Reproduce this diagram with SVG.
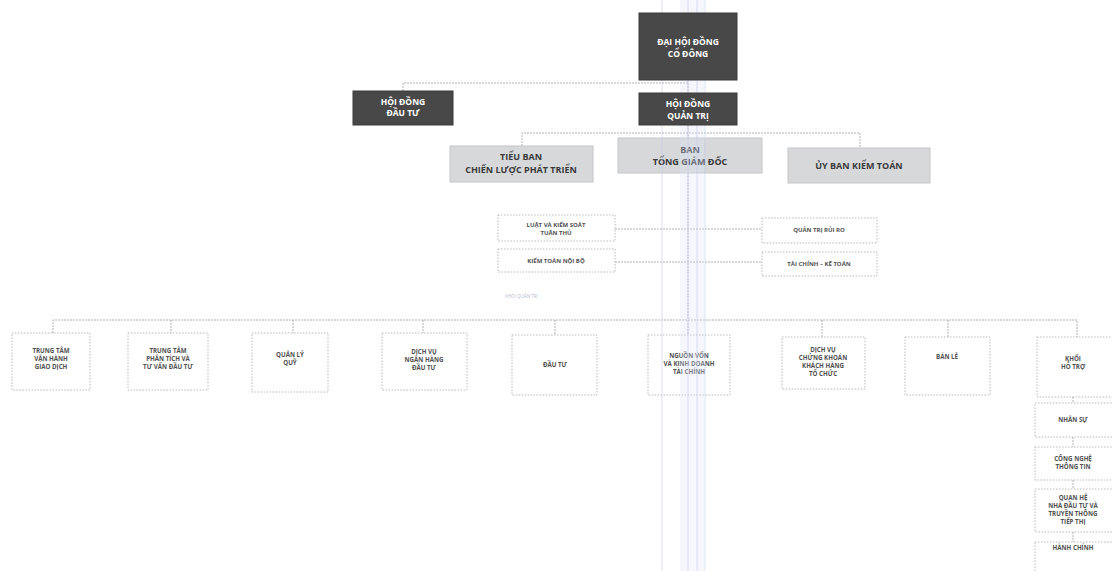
<svg xmlns="http://www.w3.org/2000/svg" width="1112" height="571" viewBox="0 0 1112 571">
<style>
.dark{fill:#484848;stroke:#3a3a3a;stroke-width:1}
.light{fill:#d6d8da;stroke:#c4c6c8;stroke-width:1}
.white{fill:#ffffff;stroke:#a8a8a8;stroke-width:0.8;stroke-dasharray:1.5 1.5}
.tw{font-family:"Open Sans","Liberation Sans",sans-serif;font-weight:700;font-size:8.5px;fill:#ffffff;text-anchor:middle}
.tl{font-family:"Open Sans","Liberation Sans",sans-serif;font-weight:700;font-size:9px;fill:#3a3a3a;text-anchor:middle}
.ts{font-family:"Open Sans","Liberation Sans",sans-serif;font-weight:700;font-size:6px;fill:#505050;text-anchor:middle}
.tb{font-family:"Open Sans","Liberation Sans",sans-serif;font-weight:700;font-size:6.2px;fill:#505050;text-anchor:middle}
.conn{fill:none;stroke:#a0a0a0;stroke-width:0.8;stroke-dasharray:2 1}
.scan{stroke:#c3cdec;stroke-width:1;fill:none;opacity:0.6}
</style>
<rect width="1112" height="571" fill="#ffffff"/>
<g id="connectors">
<path class="conn" d="M688,80 V93"/>
<path class="conn" d="M403,91 V83 H688"/>
<path class="conn" d="M688,125 V138"/>
<path class="conn" d="M522,146 V133 H860 V148"/>
<path class="conn" d="M688,173 V320"/>
<path class="conn" d="M615,229 H762"/>
<path class="conn" d="M615,262 H762"/>
<path class="conn" d="M53,333 V320 H1077 V337"/>
<path class="conn" d="M171,320 V333"/>
<path class="conn" d="M293,320 V333"/>
<path class="conn" d="M423,320 V333"/>
<path class="conn" d="M555,320 V335"/>
<path class="conn" d="M688,320 V335"/>
<path class="conn" d="M822,320 V337"/>
<path class="conn" d="M948,320 V337"/>
<path class="conn" d="M1073,397 V403"/>
<path class="conn" d="M1073,437 V447"/>
<path class="conn" d="M1073,480 V489"/>
<path class="conn" d="M1073,532 V542"/>
</g>
<g id="tieu-ban">
<rect class="light" x="450" y="146" width="143" height="36"/>
<text class="tl" x="521" y="160">TIỂU BAN</text>
<text class="tl" x="521" y="173">CHIẾN LƯỢC PHÁT TRIỂN</text>
</g>
<g id="ban-tong-giam-doc">
<rect class="light" x="618" y="138" width="144" height="35"/>
<text class="tl" x="690" y="153">BAN</text>
<text class="tl" x="690" y="165">TỔNG GIÁM ĐỐC</text>
</g>
<g id="uy-ban-kiem-toan">
<rect class="light" x="788" y="148" width="142" height="35"/>
<text class="tl" x="859" y="169">ỦY BAN KIỂM TOÁN</text>
</g>
<g id="luat-kiem-soat">
<rect class="white" x="498" y="215" width="117" height="26"/>
<text class="ts" x="556" y="227">LUẬT VÀ KIỂM SOÁT</text>
<text class="ts" x="556" y="235">TUÂN THỦ</text>
</g>
<g id="kiem-toan-noi-bo">
<rect class="white" x="498" y="249" width="117" height="23"/>
<text class="ts" x="556" y="263">KIỂM TOÁN NỘI BỘ</text>
</g>
<g id="quan-tri-rui-ro">
<rect class="white" x="762" y="218" width="115" height="25"/>
<text class="ts" x="819" y="232">QUẢN TRỊ RỦI RO</text>
</g>
<g id="tai-chinh-ke-toan">
<rect class="white" x="762" y="252" width="115" height="24"/>
<text class="ts" x="819" y="266">TÀI CHÍNH – KẾ TOÁN</text>
</g>
<g id="khoi-quan-tri-label">
<text x="505" y="298" style="font-family:'Open Sans','Liberation Sans',sans-serif;font-size:4.5px;fill:#b4bccf">KHỐI QUẢN TRỊ</text>
</g>
<g id="trung-tam-van-hanh">
<rect class="white" x="12" y="333" width="78" height="57"/>
<text class="tb" x="51" y="353">TRUNG TÂM</text>
<text class="tb" x="51" y="361">VẬN HÀNH</text>
<text class="tb" x="51" y="369">GIAO DỊCH</text>
</g>
<g id="trung-tam-phan-tich">
<rect class="white" x="128" y="333" width="80" height="57"/>
<text class="tb" x="168" y="353">TRUNG TÂM</text>
<text class="tb" x="168" y="361">PHÂN TÍCH VÀ</text>
<text class="tb" x="168" y="369">TƯ VẤN ĐẦU TƯ</text>
</g>
<g id="quan-ly-quy">
<rect class="white" x="252" y="333" width="76" height="59"/>
<text class="tb" x="290" y="357">QUẢN LÝ</text>
<text class="tb" x="290" y="365">QUỸ</text>
</g>
<g id="dich-vu-ngan-hang">
<rect class="white" x="382" y="333" width="85" height="57"/>
<text class="tb" x="424" y="354">DỊCH VỤ</text>
<text class="tb" x="424" y="362">NGÂN HÀNG</text>
<text class="tb" x="424" y="370">ĐẦU TƯ</text>
</g>
<g id="dau-tu">
<rect class="white" x="512" y="335" width="85" height="60"/>
<text class="tb" x="555" y="367">ĐẦU TƯ</text>
</g>
<g id="nguon-von">
<rect class="white" x="648" y="335" width="82" height="60"/>
<text class="tb" x="689" y="358">NGUỒN VỐN</text>
<text class="tb" x="689" y="366">VÀ KINH DOANH</text>
<text class="tb" x="689" y="374">TÀI CHÍNH</text>
</g>
<g id="dich-vu-chung-khoan">
<rect class="white" x="782" y="337" width="83" height="52"/>
<text class="tb" x="823" y="352">DỊCH VỤ</text>
<text class="tb" x="823" y="360">CHỨNG KHOÁN</text>
<text class="tb" x="823" y="368">KHÁCH HÀNG</text>
<text class="tb" x="823" y="376">TỔ CHỨC</text>
</g>
<g id="ban-le">
<rect class="white" x="905" y="337" width="85" height="58"/>
<text class="tb" x="947" y="359">BÁN LẺ</text>
</g>
<g id="khoi-ho-tro">
<rect class="white" x="1037" y="337" width="80" height="60"/>
<text class="tb" x="1073" y="361">KHỐI</text>
<text class="tb" x="1073" y="369">HỖ TRỢ</text>
</g>
<g id="nhan-su">
<rect class="white" x="1035" y="403" width="80" height="34"/>
<text class="tb" x="1073" y="422">NHÂN SỰ</text>
</g>
<g id="cong-nghe-thong-tin">
<rect class="white" x="1035" y="447" width="80" height="33"/>
<text class="tb" x="1073" y="461">CÔNG NGHỆ</text>
<text class="tb" x="1073" y="469">THÔNG TIN</text>
</g>
<g id="quan-he-nha-dau-tu">
<rect class="white" x="1035" y="489" width="80" height="43"/>
<text class="tb" x="1073" y="500">QUAN HỆ</text>
<text class="tb" x="1073" y="508">NHÀ ĐẦU TƯ VÀ</text>
<text class="tb" x="1073" y="516">TRUYỀN THÔNG</text>
<text class="tb" x="1073" y="524">TIẾP THỊ</text>
</g>
<g id="hanh-chinh">
<rect class="white" x="1035" y="542" width="80" height="35"/>
<text class="tb" x="1073" y="550">HÀNH CHÍNH</text>
</g>
<g id="scan-lines">
<rect x="680" y="0" width="24" height="571" fill="#dfe6f7" opacity="0.3"/>
<line class="scan" x1="662" y1="0" x2="662" y2="571"/>
<line class="scan" x1="688" y1="0" x2="688" y2="571"/>
<line class="scan" x1="697" y1="0" x2="697" y2="571"/>
<line class="scan" x1="705" y1="0" x2="705" y2="571"/>
</g>
<g id="dai-hoi-dong-co-dong">
<rect class="dark" x="639" y="13" width="98" height="67"/>
<text class="tw" x="688" y="45">ĐẠI HỘI ĐỒNG</text>
<text class="tw" x="688" y="57">CỔ ĐÔNG</text>
</g>
<g id="hoi-dong-quan-tri">
<rect class="dark" x="639" y="93" width="98" height="32"/>
<text class="tw" x="688" y="107">HỘI ĐỒNG</text>
<text class="tw" x="688" y="119">QUẢN TRỊ</text>
</g>
<g id="hoi-dong-dau-tu">
<rect class="dark" x="353" y="91" width="100" height="34"/>
<text class="tw" x="403" y="105">HỘI ĐỒNG</text>
<text class="tw" x="403" y="116">ĐẦU TƯ</text>
</g>
</svg>
